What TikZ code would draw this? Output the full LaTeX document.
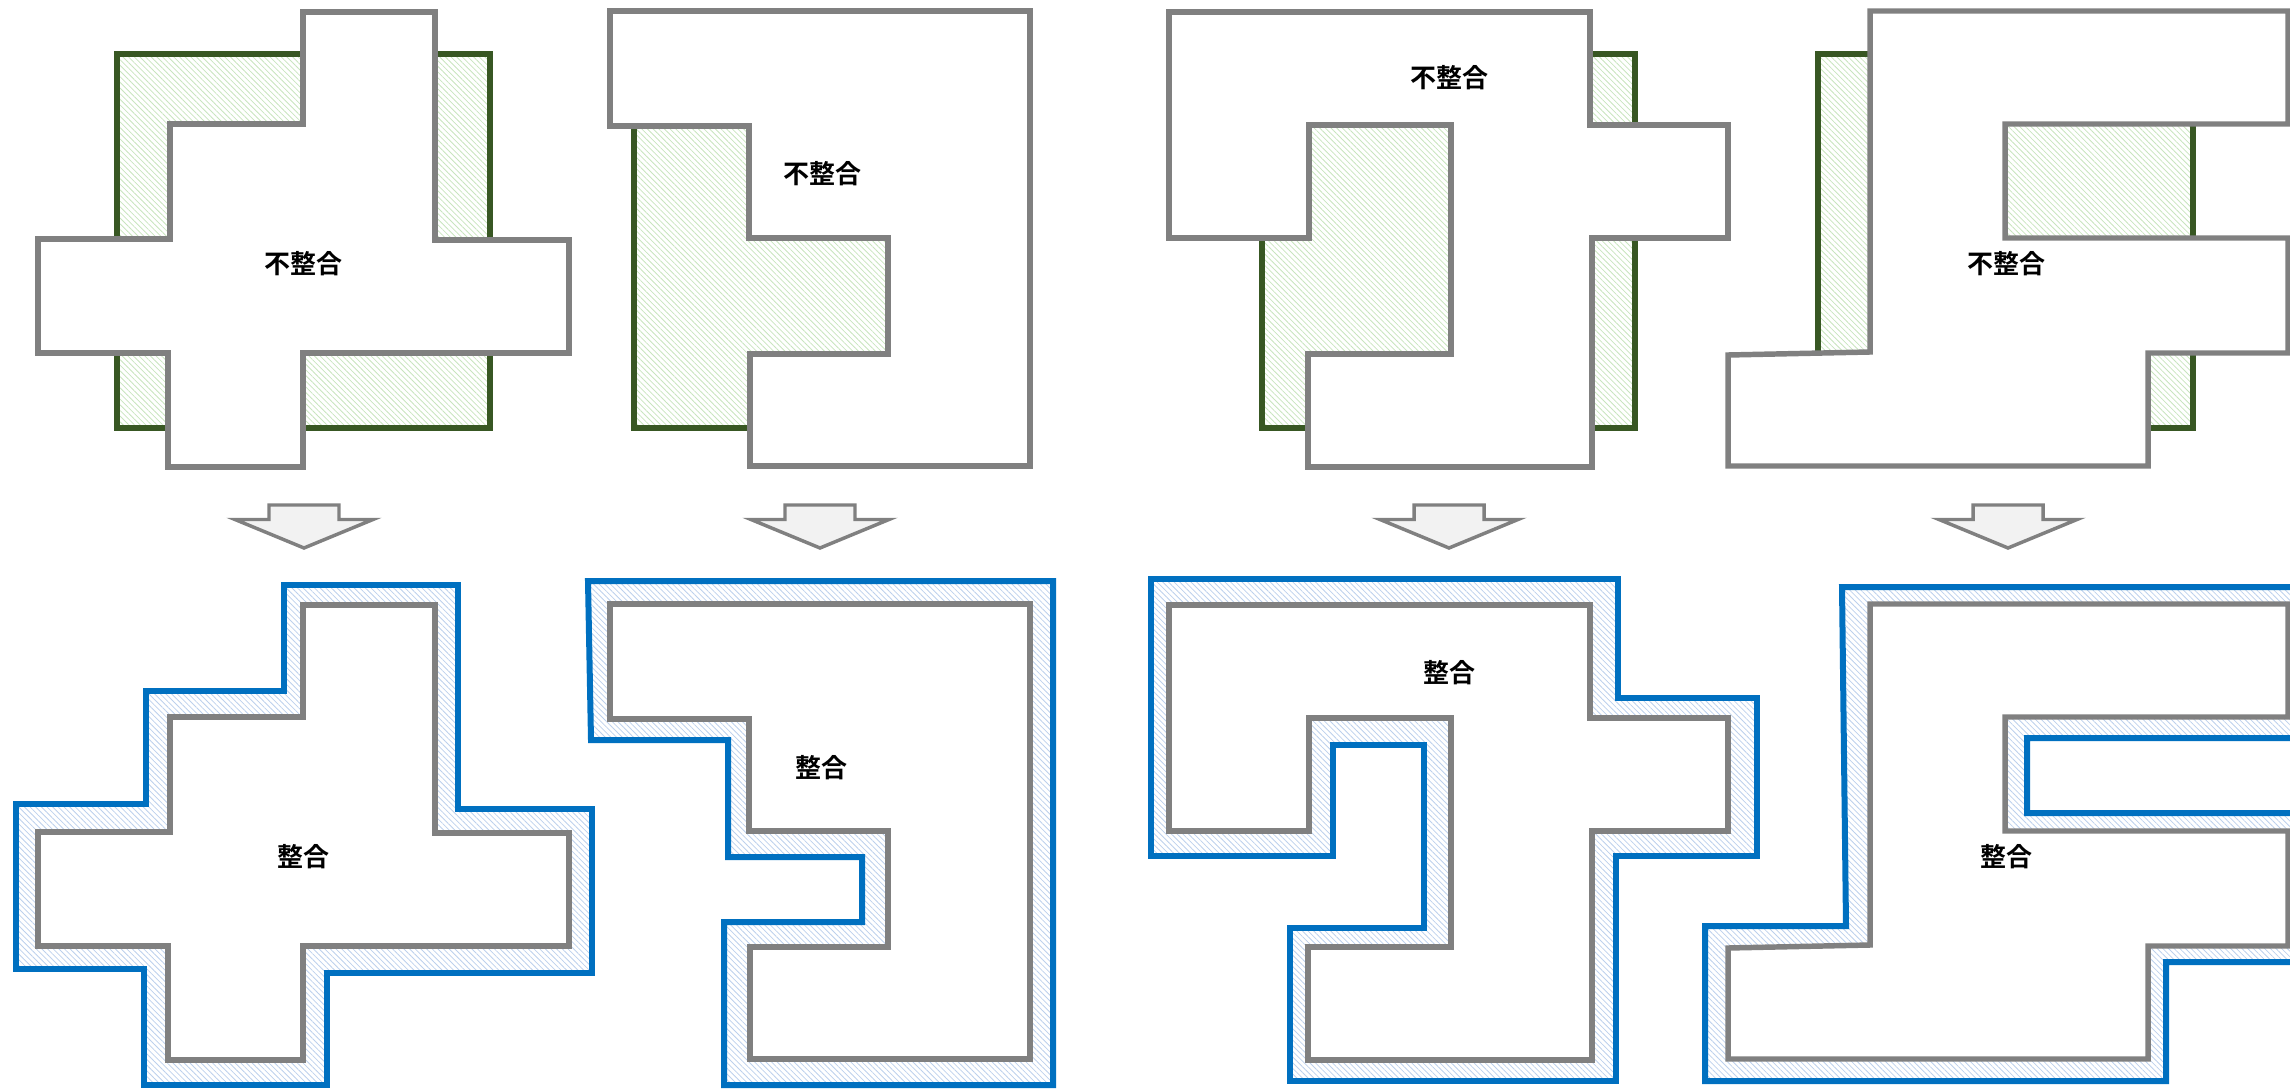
\documentclass[tikz,border=0pt]{standalone}
\usepackage{fontspec}
\newfontfamily\cjk{Noto Sans CJK JP}[BoldFont={Noto Sans CJK JP Bold}]
\usetikzlibrary{patterns.meta}
\definecolor{edgegray}{RGB}{128,128,128}
\definecolor{edgegreen}{RGB}{56,87,35}
\definecolor{edgeblue}{RGB}{0,112,192}
\definecolor{hatchgreen}{RGB}{200,228,190}
\definecolor{hatchblue}{RGB}{188,208,236}
\definecolor{arrowfill}{RGB}{242,242,242}

\begin{document}
\begin{tikzpicture}[x=0.75pt,y=-0.75pt]
\tikzset{
  plotshape/.style={draw=edgegray,fill=white,line width=4.1pt},
  misfit/.style={draw=edgegreen,line width=3.8pt,pattern={Lines[angle=-45,distance=3pt,line width=0.6pt]},pattern color=hatchgreen},
  fitted/.style={draw=edgeblue,line width=4.5pt,pattern={Lines[angle=-45,distance=3pt,line width=0.6pt]},pattern color=hatchblue},
  blockarrow/.style={draw=edgegray,fill=arrowfill,line width=2.6pt},
  tagtext/.style={font=\cjk\bfseries\fontsize{19.5}{23}\selectfont,inner sep=0pt}
}
\useasboundingbox (0,0) rectangle (2290,1088);
\clip (0,0) rectangle (2290,1088);
% upper row: neighbour parcels and the plot drawn over them
\draw[misfit] (117,54) rectangle (490,428);
\draw[misfit] (634,54) rectangle (888,428);
\draw[misfit] (1262,54) rectangle (1635,428);
\draw[misfit] (1818,54) rectangle (2193,428);
\draw[plotshape] (303,12) -- (435,12) -- (435,240) -- (569,240) -- (569,353) -- (303,353) -- (303,467) -- (168,467) -- (168,353) -- (38,353) -- (38,239) -- (170,239) -- (170,124) -- (303,124) -- cycle;
\draw[plotshape] (610,11) -- (1030,11) -- (1030,466) -- (750,466) -- (750,354) -- (888,354) -- (888,238) -- (749,238) -- (749,126) -- (610,126) -- cycle;
\draw[plotshape] (1169,12) -- (1590,12) -- (1590,125) -- (1728,125) -- (1728,238) -- (1592,238) -- (1592,467) -- (1308,467) -- (1308,354) -- (1451,354) -- (1451,125) -- (1309,125) -- (1309,238) -- (1169,238) -- cycle;
\draw[plotshape] (1870,11) -- (2288,11) -- (2288,124) -- (2005,124) -- (2005,238) -- (2288,238) -- (2288,353) -- (2148,353) -- (2148,466) -- (1728,466) -- (1728,355) -- (1870,352) -- cycle;
\node[tagtext] (misfitA) at (303,264) {不整合};
\node[tagtext] (misfitB) at (822,174) {不整合};
\node[tagtext] (misfitC) at (1449,78) {不整合};
\node[tagtext] (misfitD) at (2006,264) {不整合};
% arrows
\draw[blockarrow,shift={(304,0)}] (-35,505) -- (35,505) -- (35,519.5) -- (69,519.5) -- (0,548) -- (-69,519.5) -- (-35,519.5) -- cycle;
\draw[blockarrow,shift={(820,0)}] (-35,505) -- (35,505) -- (35,519.5) -- (69,519.5) -- (0,548) -- (-69,519.5) -- (-35,519.5) -- cycle;
\draw[blockarrow,shift={(1449,0)}] (-35,505) -- (35,505) -- (35,519.5) -- (69,519.5) -- (0,548) -- (-69,519.5) -- (-35,519.5) -- cycle;
\draw[blockarrow,shift={(2008,0)}] (-35,505) -- (35,505) -- (35,519.5) -- (69,519.5) -- (0,548) -- (-69,519.5) -- (-35,519.5) -- cycle;
% lower row: fitted outlines round the plots
\draw[fitted] (284,585) -- (458,585) -- (458,809) -- (592,809) -- (592,973) -- (327,973) -- (327,1085) -- (144,1085) -- (144,969) -- (16,969) -- (16,804) -- (146,804) -- (146,691) -- (284,691) -- cycle;
\draw[fitted] (588,581) -- (1053,581) -- (1053,1085) -- (724,1085) -- (724,922) -- (862,922) -- (862,857) -- (728,857) -- (728,740) -- (591,740) -- cycle;
\draw[fitted] (1151,579) -- (1618,579) -- (1618,698) -- (1757,698) -- (1757,856) -- (1616,856) -- (1616,1081) -- (1290,1081) -- (1290,928) -- (1424,928) -- (1424,745) -- (1333,745) -- (1333,856) -- (1151,856) -- cycle;
\draw[fitted] (1842,587) -- (2310,587) -- (2310,738) -- (2027,738) -- (2027,813) -- (2310,813) -- (2310,962) -- (2166,962) -- (2166,1081) -- (1705,1081) -- (1705,926) -- (1846,926) -- cycle;
\draw[plotshape] (303,605) -- (435,605) -- (435,833) -- (569,833) -- (569,946) -- (303,946) -- (303,1060) -- (168,1060) -- (168,946) -- (38,946) -- (38,832) -- (170,832) -- (170,717) -- (303,717) -- cycle;
\draw[plotshape] (610,604) -- (1030,604) -- (1030,1059) -- (750,1059) -- (750,947) -- (888,947) -- (888,831) -- (749,831) -- (749,719) -- (610,719) -- cycle;
\draw[plotshape] (1169,605) -- (1590,605) -- (1590,718) -- (1728,718) -- (1728,831) -- (1592,831) -- (1592,1060) -- (1308,1060) -- (1308,947) -- (1451,947) -- (1451,718) -- (1309,718) -- (1309,831) -- (1169,831) -- cycle;
\draw[plotshape] (1870,604) -- (2288,604) -- (2288,717) -- (2005,717) -- (2005,831) -- (2288,831) -- (2288,946) -- (2148,946) -- (2148,1059) -- (1728,1059) -- (1728,948) -- (1870,945) -- cycle;
\node[tagtext] (fitA) at (303,857) {整合};
\node[tagtext] (fitB) at (821,768) {整合};
\node[tagtext] (fitC) at (1449,673) {整合};
\node[tagtext] (fitD) at (2006,857) {整合};
\end{tikzpicture}
\end{document}
